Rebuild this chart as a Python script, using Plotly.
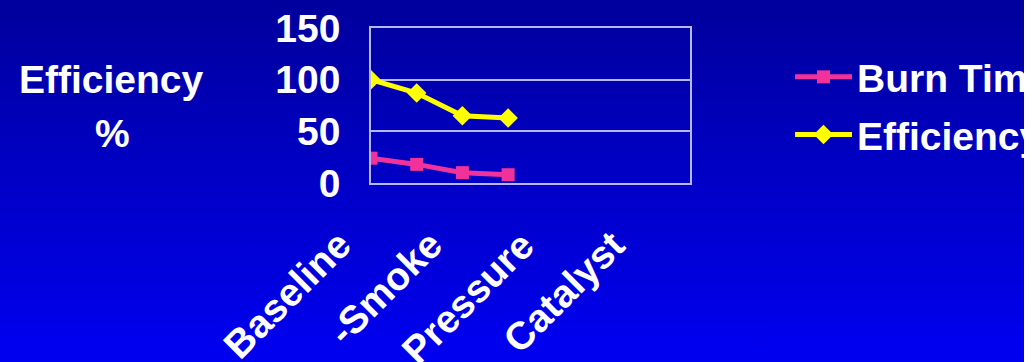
import base64
import plotly.graph_objects as go

# Test stages and measured results
categories = ["Baseline", "-Smoke", "Pressure", "Catalyst"]
burn_time = [24, 18, 10, 8]
efficiency = [100, 87, 65, 63]
y_ticks = [0, 50, 100, 150]

W, H = 1034, 362
L, R, T, B = 371, 344, 28, 179
pw, ph = W - L - R, H - T - B
SLIDE_W = 1024  # width of the slide; the rest of the page stays white

FONT = "Liberation Sans, Arial, sans-serif"
FS = 39
PINK = "#f0329a"
YELLOW = "#ffff00"
GRID = "rgba(215,215,255,0.85)"

# vertical blue gradient used as the slide background
svg = (
    f'<svg xmlns="http://www.w3.org/2000/svg" width="{W}" height="{H}" '
    f'viewBox="0 0 {W} {H}" preserveAspectRatio="none">'
    '<defs><linearGradient id="g" x1="0" y1="0" x2="0" y2="1">'
    '<stop offset="0" stop-color="#00009c"/>'
    '<stop offset="1" stop-color="#0000f2"/>'
    '</linearGradient></defs>'
    f'<rect width="{W}" height="{H}" fill="url(#g)"/></svg>'
)
bg_uri = "data:image/svg+xml;base64," + base64.b64encode(svg.encode()).decode()

fig = go.Figure()
fig.add_trace(go.Scatter(
    x=categories, y=burn_time, name="Burn Time", mode="lines+markers",
    line=dict(color=PINK, width=5),
    marker=dict(symbol="square", size=13, color=PINK),
    legendgroup="a",
))
fig.add_trace(go.Scatter(
    x=categories, y=efficiency, name="Efficiency", mode="lines+markers",
    line=dict(color=YELLOW, width=5),
    marker=dict(symbol="diamond", size=15, color=YELLOW),
    legendgroup="b",
))

# rotated category labels under the axis
for i, cat in enumerate(categories):
    fig.add_annotation(
        x=2 * i, xref="x", y=0, yref="paper",
        text=cat, showarrow=False, textangle=-45,
        xanchor="right", yanchor="top", xshift=-9, yshift=-37,
        font=dict(family=FONT, size=FS, color="white", weight="bold"),
    )

# horizontal axis title on the left
fig.add_annotation(
    x=-(L - 111) / pw, xref="paper", y=1 - (79 - T) / ph, yref="paper",
    text="Efficiency", showarrow=False, xanchor="center", yanchor="middle",
    font=dict(family=FONT, size=FS, color="white", weight="bold"),
)
fig.add_annotation(
    x=-(L - 112) / pw, xref="paper", y=1 - (133 - T) / ph, yref="paper",
    text="%", showarrow=False, xanchor="center", yanchor="middle",
    font=dict(family=FONT, size=FS, color="white", weight="bold"),
)

# white margin to the right of the slide edge
fig.add_shape(
    type="rect", xref="paper", yref="paper", layer="above",
    x0=(SLIDE_W - L) / pw, x1=(W - L) / pw + 0.05,
    y0=-B / ph - 0.05, y1=1 + T / ph + 0.05,
    fillcolor="white", line=dict(width=0),
)

fig.update_layout(
    width=W, height=H,
    margin=dict(l=L, r=R, t=T, b=B, autoexpand=False),
    paper_bgcolor="#0000c8",
    plot_bgcolor="rgba(0,0,0,0)",
    images=[dict(
        source=bg_uri, xref="paper", yref="paper",
        x=-L / pw, y=1 + T / ph, sizex=W / pw, sizey=H / ph,
        xanchor="left", yanchor="top", sizing="stretch", layer="below",
    )],
    showlegend=True,
    legend=dict(
        x=(790 - L) / pw, xanchor="left", y=1 - (45 - T) / ph, yanchor="top",
        bgcolor="rgba(0,0,0,0)", traceorder="grouped", tracegroupgap=4,
        itemwidth=57,
        font=dict(family=FONT, size=FS, color="white", weight="bold"),
    ),
    xaxis=dict(
        type="category", range=[0, 6.98],
        showticklabels=False, showgrid=False, zeroline=False, ticks="",
        showline=True, mirror=True, linecolor=GRID, linewidth=1.5,
    ),
    yaxis=dict(
        range=[0, 150], tickvals=y_ticks, showgrid=True, gridcolor=GRID,
        gridwidth=1.5, zeroline=False, showline=True, mirror=True,
        linecolor=GRID, linewidth=1.5, ticks="", ticklabelstandoff=21,
        tickfont=dict(family=FONT, size=FS, color="white", weight="bold"),
    ),
)

fig.write_html("out.html")
